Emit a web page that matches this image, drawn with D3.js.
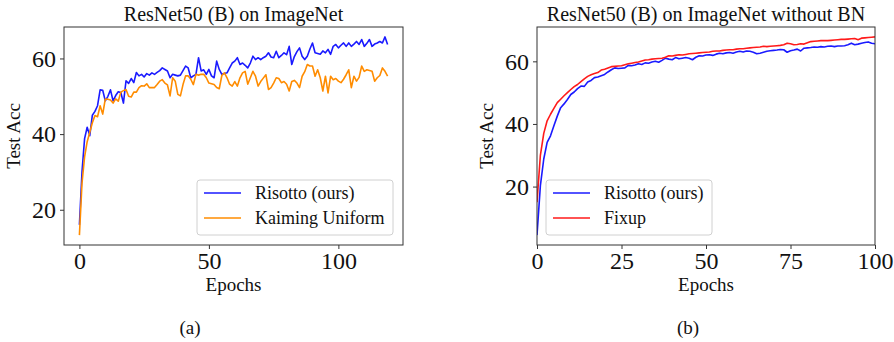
<!DOCTYPE html>
<html>
<head>
<meta charset="utf-8">
<script src="https://cdn.jsdelivr.net/npm/d3@7"></script>
<style>
  html, body { margin: 0; padding: 0; background: #fff; }
  svg text { font-family: "Liberation Serif", "Times New Roman", serif; fill: #111; }
</style>
</head>
<body>
<svg id="chart" width="894" height="342"></svg>
<script>

// left panel: ResNet50 (B) on ImageNet, epochs 0..119
var risottoA = [
  16, 30, 38.8, 41.8, 39.6, 45, 46, 47.5, 51.7, 51.6,
  48.8, 50, 51.7, 48.8, 50.2, 51.2, 51, 48.2, 54.1, 53.4,
  54.7, 53.6, 56.3, 55.4, 55.8, 55.1, 56, 55.6, 56.2, 55.8,
  56.3, 56.8, 57.5, 57.1, 56.7, 54.9, 55.8, 55.6, 55.4, 55.6,
  56.8, 58, 57.5, 54.9, 55.4, 55.8, 60.2, 56.7, 57, 55.8,
  57.1, 55.4, 54.9, 59.3, 57.1, 55.8, 56, 56.2, 57.5, 58.8,
  59.3, 60.2, 58.4, 58.8, 58.2, 57.5, 58.8, 60.6, 59.7, 60.2,
  59.7, 60.2, 60.6, 61.5, 60.4, 60.2, 61.9, 60.2, 60.8, 61.5,
  61, 63.2, 58.4, 60.5, 61.8, 62.8, 60.6, 59.7, 60.6, 62.5,
  64.1, 61.5, 61.3, 61.1, 62, 61.5, 62.4, 61.1, 63.2, 63.7,
  62.8, 63.5, 64.1, 63.2, 64.1, 63.2, 63.8, 64.5, 63.7, 65,
  63.2, 64, 65, 63.2, 63.8, 64.1, 64.5, 64.1, 65.7, 63.7
];
var kaimingA = [
  13.3, 27, 34, 38, 40.5, 43, 44.9, 44.6, 47.5, 45.3,
  49.3, 49.2, 49, 48.2, 49.3, 48.7, 51.1, 51.5, 51.8, 50,
  49.8, 51.1, 51.1, 52.3, 52.8, 52.7, 53.3, 52.3, 52.3, 52.3,
  53.1, 54, 54.4, 53.5, 53, 50.1, 54.9, 54, 50.5, 50.1,
  53.1, 55.4, 55.4, 54.5, 53.1, 55.8, 55.6, 55.8, 55.8, 54.9,
  53.5, 53.3, 53.1, 52.3, 52, 55.5, 56.2, 54.9, 53.2, 52.7,
  53.9, 52.7, 54.9, 56.2, 56.6, 53.2, 54.9, 56.6, 55.3, 52.7,
  53.9, 54.8, 55.7, 51.8, 52.3, 53.5, 54.9, 54.7, 53.6, 53.9,
  53.2, 51.4, 53.9, 54.2, 53.5, 52.3, 55.3, 56.5, 58.4, 58,
  58, 55.3, 57, 54.9, 51.4, 55.3, 50.9, 55.3, 54.4, 54.7,
  54, 53.6, 54.5, 55.7, 57, 52.3, 55.3, 54, 55, 58,
  56.6, 57, 56.8, 56.6, 54, 54.9, 55.5, 57.5, 56.6, 55.3
];

// right panel: without BN, epochs 0..100
var risottoB = [
  4.5, 20.3, 28.8, 34.1, 36.2, 39.4, 42.5, 45.2, 46.4, 47.8,
  49.4, 50.2, 51.3, 52.1, 52, 53.4, 53.9, 54.8, 55, 55.4,
  55.8, 56.6, 57.3, 57.9, 57.7, 57.8, 57.9, 58.7, 58.6, 58.8,
  59.2, 59, 59.5, 59.4, 59.8, 60, 59.7, 60.3, 61, 60.7,
  60.5, 61.2, 60.8, 61, 61.2, 61, 60.5, 61.3, 61.8, 61.7,
  62, 62.1, 61.9, 62.3, 62.6, 62.4, 62.7, 62.8, 62.6, 63,
  63.2, 63, 63.3, 63.2, 62.9, 62.4, 62.6, 62.9, 63.2, 63.4,
  63.5, 63.6, 63.8, 63.7, 62.9, 63.4, 63.6, 63.9, 63.3, 64.2,
  64.3, 64.4, 64.6, 64.5, 64.7, 64.6, 64.8, 64.9, 64.7, 64.9,
  64.9, 65, 65.3, 65.8, 65.3, 65.5, 65.8, 66, 66.2, 65.8,
  65.6
];
var fixupB = [
  15, 30, 37, 41, 43.1, 45, 46.8, 47.9, 49, 50,
  51, 51.9, 52.6, 53.5, 54.4, 55.2, 55.7, 56.1, 56.4, 57.2,
  57.5, 57.9, 58.3, 58.4, 58.5, 58.6, 58.9, 59.2, 59.4, 59.6,
  59.8, 60.1, 60.4, 60.5, 60.7, 60.8, 60.9, 61, 61.3, 61.8,
  61.7, 61.9, 62.1, 62, 62.2, 62.4, 62.5, 62.6, 62.7, 62.8,
  62.9, 63, 63.2, 63.3, 63.3, 63.5, 63.6, 63.7, 63.7, 63.9,
  64, 64, 64.2, 64.3, 64.4, 64.5, 64.6, 64.8, 64.7, 64.8,
  64.9, 65, 65.1, 65.3, 65.8, 65.6, 65.3, 65.4, 65.6, 65.5,
  65.9, 66.3, 66.4, 66.5, 66.6, 66.6, 66.6, 66.7, 66.8, 66.9,
  67, 67, 67.1, 67.2, 67.3, 66.9, 67.4, 67.5, 67.6, 67.7,
  67.8
];

var xTicksA = [0, 50, 100];
var xTicksB = [0, 25, 50, 75, 100];
var yTicks = [20, 40, 60];

var svg = d3.select("#chart");

// matplotlib style 5% padding around the data
function padded(lo, hi) {
    var m = (hi - lo) * 0.05;
    return [lo - m, hi + m];
}

function drawPanel(p) {
    var g = svg.append("g");
    var allY = [].concat.apply([], p.series.map(function (s) { return s.values; }));
    var x = d3.scaleLinear().domain(p.xDomain).range([p.left, p.right]);
    var y = d3.scaleLinear().domain(padded(d3.min(allY), d3.max(allY))).range([p.bottom, p.top]);

    var line = d3.line()
        .x(function (d, i) { return x(i); })
        .y(function (d) { return y(d); });

    g.append("defs").append("clipPath").attr("id", p.id + "-clip")
        .append("rect")
        .attr("x", p.left).attr("y", p.top)
        .attr("width", p.right - p.left).attr("height", p.bottom - p.top);

    var lines = g.append("g").attr("clip-path", "url(#" + p.id + "-clip)");
    p.series.forEach(function (s) {
        lines.append("path")
            .attr("d", line(s.values))
            .attr("fill", "none")
            .attr("stroke", s.color)
            .attr("stroke-width", 1.6)
            .attr("stroke-linejoin", "round");
    });

    // frame
    g.append("rect")
        .attr("x", p.left).attr("y", p.top)
        .attr("width", p.right - p.left).attr("height", p.bottom - p.top)
        .attr("fill", "none").attr("stroke", "#333").attr("stroke-width", 1);

    var xAxis = g.append("g")
        .attr("transform", "translate(0," + p.bottom + ")")
        .call(d3.axisBottom(x).tickValues(p.xTicks).tickSize(4).tickPadding(3));
    var yAxis = g.append("g")
        .attr("transform", "translate(" + p.left + ",0)")
        .call(d3.axisLeft(y).tickValues(yTicks).tickSize(4).tickPadding(4));
    [xAxis, yAxis].forEach(function (a) {
        a.attr("font-family", null).attr("font-size", null);
        a.select(".domain").remove();
        a.selectAll(".tick line").attr("stroke", "#333");
        a.selectAll(".tick text")
            .style("font-family", "'Liberation Serif', serif")
            .style("font-size", "24px")
            .attr("fill", "#111");
    });

    var cx = (p.left + p.right) / 2;
    g.append("text").attr("x", cx).attr("y", 21)
        .attr("text-anchor", "middle").style("font-size", "20px").text(p.title);
    g.append("text").attr("x", cx).attr("y", 291)
        .attr("text-anchor", "middle").style("font-size", "19px").text("Epochs");
    g.append("text")
        .attr("transform", "translate(" + (p.left - 44) + "," + ((p.top + p.bottom) / 2) + ") rotate(-90)")
        .attr("text-anchor", "middle").style("font-size", "19px").text("Test Acc");
    g.append("text").attr("x", p.captionX).attr("y", 334)
        .attr("text-anchor", "middle").style("font-size", "19px").text(p.caption);

    // legend
    var lg = g.append("g").attr("transform", "translate(" + p.legend[0] + "," + p.legend[1] + ")");
    lg.append("rect")
        .attr("width", p.legend[2]).attr("height", 55)
        .attr("rx", 3)
        .attr("fill", "#fff").attr("fill-opacity", 0.85)
        .attr("stroke", "#d0d0d0");
    p.series.forEach(function (s, i) {
        var yy = 13 + i * 25;
        lg.append("line")
            .attr("x1", 7).attr("x2", 44).attr("y1", yy).attr("y2", yy)
            .attr("stroke", s.color).attr("stroke-width", 1.6);
        lg.append("text")
            .attr("x", 58).attr("y", yy + 6)
            .style("font-size", "18px").text(s.name);
    });
}

drawPanel({
    id: "a",
    left: 64, right: 403, top: 27, bottom: 245,
    xDomain: padded(0, risottoA.length - 1),
    xTicks: xTicksA,
    title: "ResNet50 (B) on ImageNet",
    caption: "(a)", captionX: 190,
    legend: [197, 180, 196],
    series: [
        { name: "Risotto (ours)", values: risottoA, color: "#1a1aff" },
        { name: "Kaiming Uniform", values: kaimingA, color: "#ff8c00" }
    ]
});

drawPanel({
    id: "b",
    left: 537, right: 875, top: 27, bottom: 245,
    xDomain: [0, 100],
    xTicks: xTicksB,
    title: "ResNet50 (B) on ImageNet without BN",
    caption: "(b)", captionX: 688,
    legend: [546, 180, 166],
    series: [
        { name: "Risotto (ours)", values: risottoB, color: "#1a1aff" },
        { name: "Fixup", values: fixupB, color: "#ff1a1a" }
    ]
});

</script>
</body>
</html>
